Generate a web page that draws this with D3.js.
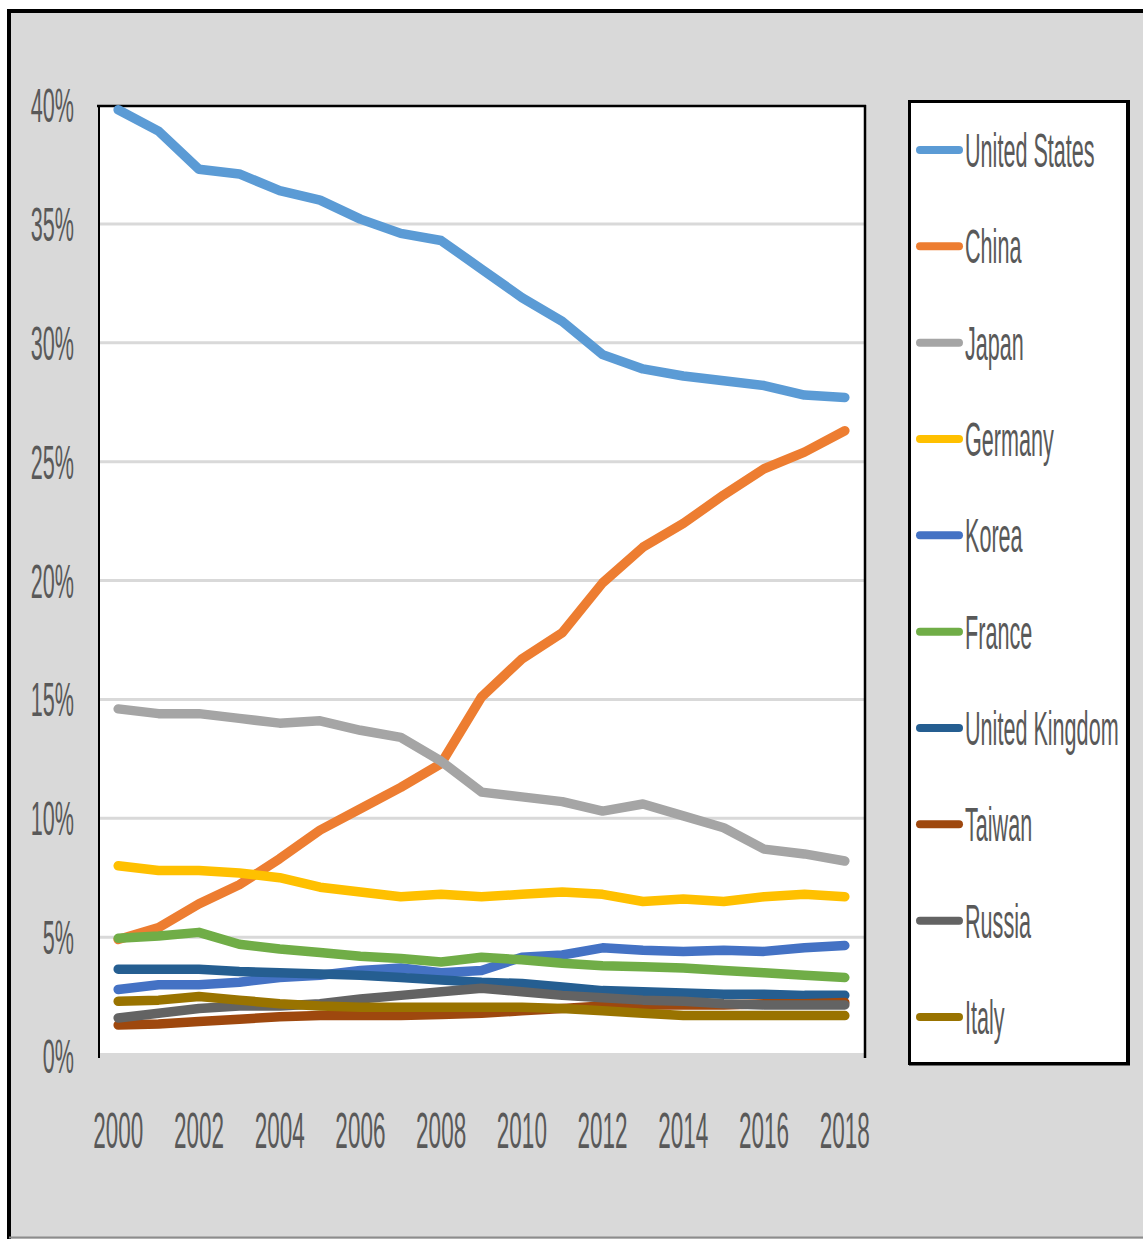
<!DOCTYPE html>
<html><head><meta charset="utf-8">
<script src="https://cdn.jsdelivr.net/npm/d3@7"></script>
<style>html,body{margin:0;padding:0;background:#fff;}svg{display:block;}</style>
</head><body>
<svg id="chart" width="1143" height="1239"></svg>
<script>
const years = [2000,2001,2002,2003,2004,2005,2006,2007,2008,2009,2010,2011,2012,2013,2014,2015,2016,2017,2018];
const yTicks = [0,5,10,15,20,25,30,35,40];
const xTickYears = [2000,2002,2004,2006,2008,2010,2012,2014,2016,2018];
const seriesNames = ["United States","China","Japan","Germany","Korea","France","United Kingdom","Taiwan","Russia","Italy"];
const seriesColors = ["#5b9bd5","#ed7d31","#a5a5a5","#ffc000","#4472c4","#70ad47","#255e91","#9e480e","#636363","#997300"];
const unitedStates = [39.8,38.9,37.3,37.1,36.4,36.0,35.2,34.6,34.3,33.1,31.9,30.9,29.5,28.9,28.6,28.4,28.2,27.8,27.7];
const china = [4.9,5.4,6.4,7.2,8.3,9.5,10.4,11.3,12.3,15.1,16.7,17.8,19.9,21.4,22.4,23.6,24.7,25.4,26.3];
const japan = [14.6,14.4,14.4,14.2,14.0,14.1,13.7,13.4,12.4,11.1,10.9,10.7,10.3,10.6,10.1,9.6,8.7,8.5,8.2];
const germany = [8.0,7.8,7.8,7.7,7.5,7.1,6.9,6.7,6.8,6.7,6.8,6.9,6.8,6.5,6.6,6.5,6.7,6.8,6.7];
const korea = [2.8,3.0,3.0,3.1,3.3,3.4,3.6,3.7,3.5,3.6,4.15,4.25,4.55,4.45,4.4,4.45,4.4,4.55,4.65];
const france = [4.95,5.05,5.2,4.7,4.5,4.35,4.2,4.1,3.95,4.15,4.05,3.9,3.8,3.75,3.7,3.6,3.5,3.4,3.3];
const unitedKingdom = [3.65,3.65,3.65,3.55,3.5,3.45,3.4,3.3,3.2,3.1,3.05,2.9,2.75,2.7,2.65,2.6,2.6,2.55,2.55];
const taiwan = [1.3,1.35,1.45,1.55,1.65,1.7,1.7,1.7,1.75,1.8,1.9,2.0,2.1,2.15,2.15,2.15,2.2,2.2,2.25];
const russia = [1.6,1.8,2.0,2.1,2.1,2.2,2.4,2.55,2.7,2.85,2.7,2.55,2.45,2.35,2.3,2.2,2.15,2.15,2.15];
const italy = [2.3,2.35,2.5,2.35,2.2,2.1,2.05,2.05,2.05,2.05,2.05,2.0,1.9,1.8,1.7,1.7,1.7,1.7,1.7];
const seriesValues = [unitedStates,china,japan,germany,korea,france,unitedKingdom,taiwan,russia,italy];

const svg = d3.select("#chart");
const W = 1143, H = 1239;
const FONT = "'Liberation Sans', Arial, sans-serif";
const SX = 0.45;
const textCol = "#595959";

// outer background
svg.append("rect").attr("x",0).attr("y",0).attr("width",W).attr("height",H).attr("fill","#ffffff");
svg.append("rect").attr("x",9).attr("y",11).attr("width",W).attr("height",H).attr("fill","#d9d9d9");
svg.append("line").attr("x1",7).attr("x2",W).attr("y1",11).attr("y2",11).attr("stroke","#000").attr("stroke-width",4);
svg.append("line").attr("x1",9).attr("x2",9).attr("y1",9).attr("y2",H).attr("stroke","#000").attr("stroke-width",4);
svg.append("line").attr("x1",9).attr("x2",W).attr("y1",1237.5).attr("y2",1237.5).attr("stroke","#8c8c8c").attr("stroke-width",2);

const plot = {left:98, right:865, top:105, bottom:1056};
const x = d3.scalePoint().domain(years).range([plot.left, plot.right]).padding(0.5);
const y = d3.scaleLinear().domain([0,40]).range([plot.bottom, plot.top]);

svg.append("rect").attr("x",plot.left).attr("y",plot.top).attr("width",plot.right-plot.left).attr("height",1053-plot.top).attr("fill","#fff");

// gridlines
svg.append("g").selectAll("line").data(yTicks.filter(t=>t>0 && t<40)).join("line")
  .attr("x1",plot.left).attr("x2",plot.right).attr("y1",d=>y(d)).attr("y2",d=>y(d))
  .attr("stroke","#d9d9d9").attr("stroke-width",3);

// plot borders
svg.append("line").attr("x1",plot.left-1).attr("x2",plot.right+1).attr("y1",106).attr("y2",106).attr("stroke","#000").attr("stroke-width",2.5);
svg.append("line").attr("x1",99).attr("x2",99).attr("y1",105).attr("y2",1058).attr("stroke","#000").attr("stroke-width",2);
svg.append("line").attr("x1",865).attr("x2",865).attr("y1",105).attr("y2",1058).attr("stroke","#000").attr("stroke-width",2.5);

// y axis labels
svg.append("g").selectAll("text").data(yTicks).join("text")
  .attr("transform",d=>`translate(74,${y(d)+17}) scale(${SX},1)`)
  .attr("text-anchor","end").attr("font-family",FONT).attr("font-size",48).attr("fill",textCol)
  .text(d=>d+"%");

// x axis labels
svg.append("g").selectAll("text").data(xTickYears).join("text")
  .attr("transform",d=>`translate(${x(d)},1148) scale(${SX},1)`)
  .attr("text-anchor","middle").attr("font-family",FONT).attr("font-size",50).attr("fill",textCol)
  .text(d=>d);

// lines
const lineGen = d3.line().x((d,i)=>x(years[i])).y(d=>y(d));
svg.append("g").selectAll("path").data(seriesValues).join("path")
  .attr("d",d=>lineGen(d)).attr("fill","none")
  .attr("stroke",(d,i)=>seriesColors[i]).attr("stroke-width",9.5)
  .attr("stroke-linejoin","round").attr("stroke-linecap","round");

// legend
svg.append("rect").attr("x",909.5).attr("y",101.5).attr("width",218).attr("height",962)
  .attr("fill","#fff").attr("stroke","#000").attr("stroke-width",3);
svg.append("line").attr("x1",909).attr("x2",1130).attr("y1",1064).attr("y2",1064).attr("stroke","#000").attr("stroke-width",3);
svg.append("line").attr("x1",1129).attr("x2",1129).attr("y1",100).attr("y2",1065).attr("stroke","#000").attr("stroke-width",2);
const legendY = d3.scaleLinear().domain([0,9]).range([150,1017]);
const lg = svg.append("g").selectAll("g").data(seriesNames).join("g")
  .attr("transform",(d,i)=>`translate(0,${legendY(i)})`);
lg.append("line").attr("x1",920).attr("x2",959).attr("y1",0).attr("y2",0)
  .attr("stroke",(d,i)=>seriesColors[i]).attr("stroke-width",8).attr("stroke-linecap","round");
lg.append("text").attr("transform",`translate(965,17) scale(${SX},1)`)
  .attr("font-family",FONT).attr("font-size",48).attr("fill",textCol).text(d=>d);
</script>
</body></html>
